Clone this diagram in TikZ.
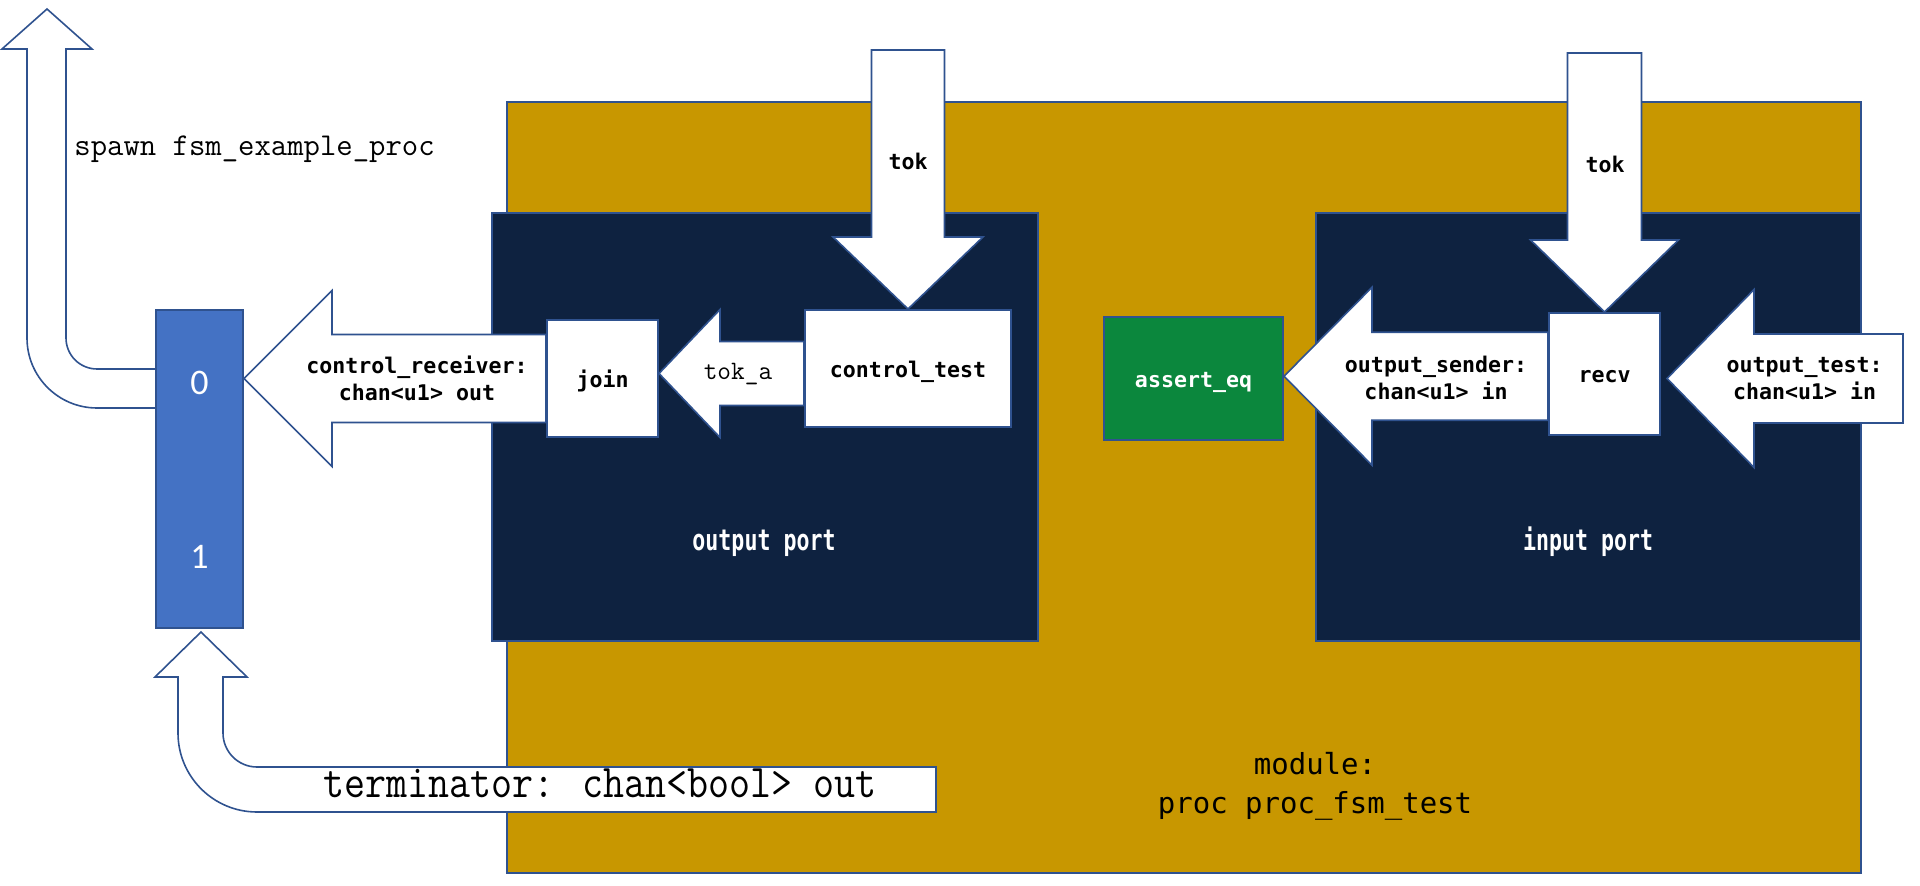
\documentclass[tikz,border=0pt]{standalone}
\usepackage{fontspec}
\usepackage{graphicx}
\usetikzlibrary{calc}
\newfontfamily\codefont{DejaVu Sans Mono}
\newfontfamily\digitfont{Carlito}

\definecolor{modgold}{RGB}{200,151,0}
\definecolor{portnavy}{RGB}{14,34,64}
\definecolor{muxblue}{RGB}{68,114,196}
\definecolor{edgeblue}{RGB}{47,82,143}
\definecolor{assertgreen}{RGB}{11,135,61}

\pgfdeclarelayer{back}
\pgfdeclarelayer{mid}
\pgfsetlayers{back,mid,main}

\tikzset{
  blk/.style={draw=edgeblue, line width=1pt, inner sep=0pt},
  fat/.style={draw=edgeblue, fill=white, line width=0.8pt, line join=miter},
  boxlbl/.style={font=\codefont\bfseries\fontsize{10.8}{13.5}\selectfont, text height=9pt, text depth=0pt},
  arrowlbl/.style={font=\codefont\bfseries\fontsize{10.8}{13.5}\selectfont, align=center, inner sep=0pt},
  bitlbl/.style={anchor=base, inner sep=0pt, text=white, font=\digitfont\fontsize{18}{21}\selectfont},
}

% fat block arrow: tip, tail, head length, head half width, shaft half width
\newcommand{\fatarrow}[5]{%
  \coordinate (fabase) at ($(#1)!#3!(#2)$);
  \draw[fat] (#1) -- ($(fabase)!#4!90:(#2)$) -- ($(fabase)!#5!90:(#2)$)
    -- ($(#2)!#5!-90:(#1)$) -- ($(#2)!#5!90:(#1)$)
    -- ($(fabase)!#5!-90:(#2)$) -- ($(fabase)!#4!-90:(#2)$) -- cycle;
}

\begin{document}
\begin{tikzpicture}[x=0.5pt,y=-0.5pt]
  \useasboundingbox (0,0) rectangle (1920,886);

  % module and the two ports
  \begin{pgfonlayer}{back}
  \node[blk, fill=modgold, minimum width=677pt, minimum height=385.5pt] (module) at (1184,487.5) {};
  \node[blk, fill=portnavy, minimum width=273pt, minimum height=214pt] (outport) at (765,427) {};
  \node[blk, fill=portnavy, minimum width=272.5pt, minimum height=214pt] (inport) at (1588.5,427) {};
  \end{pgfonlayer}

  % blocks
  \node[blk, fill=muxblue, minimum width=43.5pt, minimum height=159pt] (mux) at (199.5,469) {};
  \node[blk, fill=white, boxlbl, minimum width=55.5pt, minimum height=58.5pt] (join) at (602.5,378.5) {join};
  \node[blk, fill=white, boxlbl, minimum width=103pt, minimum height=58.5pt] (ctrltest) at (908,368.5) {control\_test};
  \node[blk, fill=assertgreen, text=white, boxlbl, minimum width=89.5pt, minimum height=61.5pt] (asserteq) at (1193.5,378.5) {assert\_eq};
  \node[blk, fill=white, boxlbl, minimum width=55.5pt, minimum height=61pt] (recv) at (1604.5,374) {recv};

  % mux inputs
  \node[bitlbl] (bit0) at (199.5,395) {0};
  \node[bitlbl] (bit1) at (199.5,568) {1};

  % free ends and arrow points
  \coordinate (tokinl) at (908,50);% tok into control_test
  \coordinate (tokinr) at (1604.5,53);% tok into recv
  \coordinate (testin) at (1903,378.5);% output_test
  \coordinate (recvtip) at ($(recv.east |- testin)+(6,0)$);
  \coordinate (muxtip) at (mux.east |- join.west);
  \coordinate (tokamid) at ($(join.east)!.5!(ctrltest.west)$);
  \coordinate (joinpt) at (join.east |- tokamid);
  \coordinate (ctrlpt) at (ctrltest.west |- tokamid);
  \coordinate (sendmid) at ($(asserteq.east)!.5!(recv.west)$);
  \coordinate (assertpt) at (asserteq.east |- sendmid);
  \coordinate (recvpt) at (recv.west |- sendmid);

  \begin{pgfonlayer}{mid}
  \fatarrow{muxtip}{join.west}{44pt}{44pt}{22pt}% control_receiver
  \fatarrow{joinpt}{ctrlpt}{30.5pt}{32pt}{16pt}% tok_a
  \fatarrow{ctrltest.north}{tokinl}{36pt}{37.5pt}{18.25pt}% tok
  \fatarrow{assertpt}{recvpt}{44pt}{44.5pt}{22pt}% output_sender
  \fatarrow{recv.north}{tokinr}{36pt}{37pt}{18.5pt}% tok
  \fatarrow{recvtip}{testin}{43.5pt}{44.5pt}{22.25pt}% output_test

  % spawn, bent up from mux
  \draw[fat] (157,369) -- (97,369) arc[start angle=90, end angle=180, radius=31]
    -- (66,49) -- (92,49) -- (47,9) -- (2,49) -- (27,49) -- (27,338)
    arc[start angle=180, end angle=90, radius=70] -- (157,408) -- cycle;
  % terminator, bent up into mux
  \draw[fat] (936,767) -- (257,767) arc[start angle=90, end angle=180, radius=34]
    -- (223,677) -- (247,677) -- (201,632) -- (155,677) -- (178,677) -- (178,733)
    arc[start angle=180, end angle=90, radius=79] -- (936,812) -- cycle;
  \end{pgfonlayer}

  % labels
  \node[anchor=base west, inner sep=0pt, font=\ttfamily\fontsize{15.9}{19}\selectfont] (spawnlbl) at (74,156) {spawn fsm\_example\_proc};
  \node[anchor=base west, inner sep=0pt, font=\ttfamily\fontsize{20.4}{24}\selectfont] (termlbl) at (323,797) {\scalebox{1}[1.15]{terminator: chan<bool> out}};
  \node[anchor=base, inner sep=0pt, font=\ttfamily\fontsize{13.3}{16}\selectfont] (tokalbl) at (738,380) {tok\_a};
  \node[arrowlbl, anchor=base] (toklbl) at (908,170) {tok};
  \node[arrowlbl, anchor=base] (tokrlbl) at (1605,173) {tok};
  \node[arrowlbl] (recvlbl) at (417,378.3) {control\_receiver:\\chan<u1> out};
  \node[arrowlbl] (senderlbl) at (1436,378.3) {output\_sender:\\chan<u1> in};
  \node[arrowlbl] (testlbl) at (1804.5,378.7) {output\_test:\\chan<u1> in};
  \node[arrowlbl, anchor=base, text=white] (outportlbl) at (764,551) {\scalebox{1}[1.35]{output port}};
  \node[arrowlbl, anchor=base, text=white] (inportlbl) at (1588,551) {\scalebox{1}[1.35]{input port}};
  \node[align=center, inner sep=0pt, font=\codefont\fontsize{14.5}{19.5}\selectfont] (modlbl) at (1315,786) {module:\\proc proc\_fsm\_test};
\end{tikzpicture}
\end{document}
